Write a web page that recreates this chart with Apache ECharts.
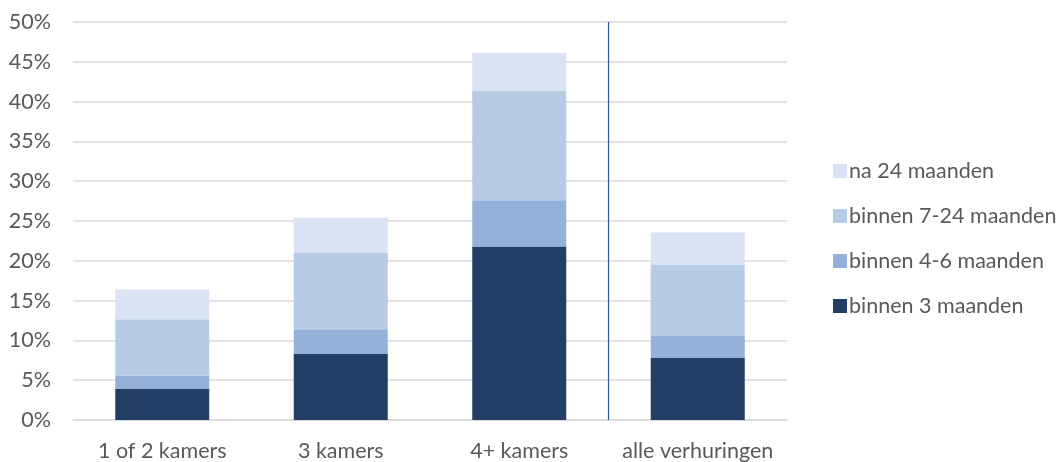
<!DOCTYPE html>
<html>
<head>
<meta charset="utf-8">
<script src="https://cdn.jsdelivr.net/npm/echarts@6/dist/echarts.min.js"></script>
<style>
  html, body { margin: 0; padding: 0; background: #ffffff; }
  #chart { width: 1064px; height: 462px; }
</style>
</head>
<body>
<div id="chart"></div>
<script>
// Share of rentals (%) per dwelling size, split by time until rented
const categories = ['1 of 2 kamers', '3 kamers', '4+ kamers', 'alle verhuringen'];
const binnen3 = [3.9, 8.3, 21.8, 7.8];
const binnen4tot6 = [1.65, 3.1, 5.8, 2.75];
const binnen7tot24 = [7.1, 9.65, 13.8, 9.0];
const na24 = [3.75, 4.35, 4.7, 4.0];
const yTicks = [0, 5, 10, 15, 20, 25, 30, 35, 40, 45, 50];
// the divider sits between the last size group and the overall total
const dividerPosition = 3;

const seriesNames = ['binnen 3 maanden', 'binnen 4-6 maanden', 'binnen 7-24 maanden', 'na 24 maanden'];
const seriesData = [binnen3, binnen4tot6, binnen7tot24, na24];
const seriesColors = ['#243F66', '#95B1DA', '#B7CBE5', '#DAE3F3'];

const fontFamily = 'Lato, "Open Sans", sans-serif';
const fontSize = 21.5;
const textColor = '#595959';

const chart = echarts.init(document.getElementById('chart'), null, { renderer: 'canvas' });

const barSeries = seriesNames.map(function (name, i) {
  return {
    name: name,
    type: 'bar',
    stack: 'total',
    data: seriesData[i],
    barWidth: 94,
    itemStyle: { color: seriesColors[i] }
  };
});

// invisible helper series on a hidden value axis carrying the divider line
barSeries.push({
  name: 'divider',
  type: 'line',
  xAxisIndex: 1,
  data: [],
  silent: true,
  markLine: {
    symbol: 'none',
    silent: true,
    label: { show: false },
    lineStyle: { color: '#2F5597', width: 1.2, type: 'solid' },
    data: [{ xAxis: dividerPosition }]
  }
});

chart.setOption({
  animation: false,
  textStyle: { fontFamily: fontFamily },
  grid: { left: 73, right: 277, top: 22, bottom: 41, containLabel: false },
  legend: {
    data: seriesNames.slice().reverse(),
    orient: 'vertical',
    left: 828,
    top: 155,
    itemWidth: 14,
    itemHeight: 14,
    itemGap: 23,
    icon: 'rect',
    textStyle: { color: textColor, fontSize: fontSize, lineHeight: 22, fontFamily: fontFamily, padding: [0, 0, 0, -3] }
  },
  xAxis: [{
    type: 'category',
    data: categories,
    axisLine: { show: true, lineStyle: { color: '#D9D9D9', width: 1.5 } },
    axisTick: { show: false },
    axisLabel: { color: textColor, fontSize: fontSize, margin: 20, interval: 0, hideOverlap: false, fontFamily: fontFamily },
    splitLine: { show: false }
  }, {
    type: 'value',
    min: 0,
    max: categories.length,
    show: false,
    splitLine: { show: false }
  }],
  yAxis: {
    type: 'value',
    min: yTicks[0],
    max: yTicks[yTicks.length - 1],
    interval: yTicks[1] - yTicks[0],
    axisLine: { show: false },
    axisTick: { show: false },
    axisLabel: { color: textColor, fontSize: fontSize, margin: 22, formatter: '{value}%', fontFamily: fontFamily },
    splitLine: { lineStyle: { color: '#D9D9D9', width: 1.5 } }
  },
  series: barSeries
});
</script>
</body>
</html>
